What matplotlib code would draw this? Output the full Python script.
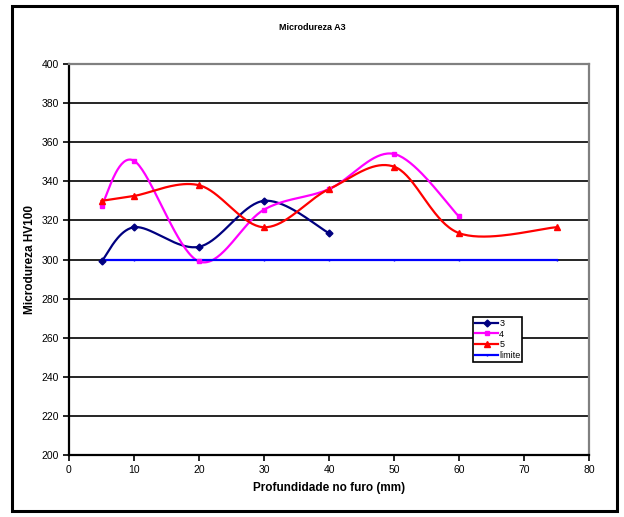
import numpy as np
import matplotlib
matplotlib.use("Agg")
import matplotlib.pyplot as plt
from matplotlib.patches import Rectangle

# depth (mm) and hardness readings per series
x3 = [5, 10, 20, 30, 40]
y3 = [299, 316.5, 306.5, 330, 313.5]

x4 = [5, 10, 20, 30, 40, 50, 60]
y4 = [327.5, 350.5, 299, 325.5, 336, 354, 322]

x5 = [5, 10, 20, 30, 40, 50, 60, 75]
y5 = [330, 332.5, 338, 316.5, 336, 347.5, 313.5, 316.5]

x_lim = [5, 10, 20, 30, 40, 50, 60, 75]
y_lim = [300, 300, 300, 300, 300, 300, 300, 300]

yticks = [200, 220, 240, 260, 280, 300, 320, 340, 360, 380, 400]
xticks = [0, 10, 20, 30, 40, 50, 60, 70, 80]


def smooth(xs, ys, n=40):
    """Excel-like smoothed line (bezier through the points)."""
    p = np.column_stack([xs, ys]).astype(float)
    out = [p[:1]]
    t = np.linspace(0, 1, n)[1:, None]
    for i in range(len(p) - 1):
        prev = p[i - 1] if i > 0 else p[i]
        nxt = p[i + 2] if i + 2 < len(p) else p[i + 1]
        c1 = p[i] + (p[i + 1] - prev) / 6
        c2 = p[i + 1] - (nxt - p[i]) / 6
        seg = ((1 - t) ** 3 * p[i] + 3 * (1 - t) ** 2 * t * c1
               + 3 * (1 - t) * t ** 2 * c2 + t ** 3 * p[i + 1])
        out.append(seg)
    pts = np.vstack(out)
    return pts[:, 0], pts[:, 1]


plt.rcParams['font.family'] = ['Liberation Sans', 'DejaVu Sans']

fig = plt.figure(figsize=(6.24, 5.17), dpi=100)
fig.patches.append(Rectangle((12 / 624, 6 / 517), 605 / 624, 505 / 517,
                             transform=fig.transFigure, fill=False,
                             edgecolor='black', linewidth=2.2))

ax = fig.add_axes([69 / 624, 62 / 517, 520 / 624, 391 / 517])

for yv in yticks[1:-1]:
    ax.axhline(yv, color='black', linewidth=1.2, zorder=1)

series = [
    (x3, y3, '#000080', 'D', 3.5, '3'),
    (x4, y4, '#FF00FF', 's', 3.5, '4'),
    (x5, y5, '#FF0000', '^', 4.5, '5'),
]
handles = []
for xs, ys, col, mk, ms, lab in series:
    sx, sy = smooth(xs, ys)
    ax.plot(sx, sy, color=col, linewidth=1.6, zorder=3)
    ax.plot(xs, ys, linestyle='none', marker=mk, markersize=ms,
            color=col, zorder=4)
    h, = ax.plot([], [], color=col, linewidth=1.6, marker=mk,
                 markersize=ms, label=lab)
    handles.append(h)

h_lim, = ax.plot(x_lim, y_lim, color='#0000FF', linewidth=1.6,
                 marker='|', markersize=2, zorder=3, label='limite')
handles.append(h_lim)

ax.set_xlim(0, 80)
ax.set_ylim(200, 400)
ax.set_xticks(xticks)
ax.set_yticks(yticks)
ax.tick_params(axis='both', labelsize=7.5, length=4, width=1.2,
               direction='out', pad=3)

for s in ['left', 'bottom']:
    ax.spines[s].set_color('black')
    ax.spines[s].set_linewidth(1.6)
for s in ['top', 'right']:
    ax.spines[s].set_color('#808080')
    ax.spines[s].set_linewidth(1.6)

ax.set_xlabel("Profundidade no furo (mm)", fontsize=8.5, fontweight='bold',
              labelpad=5)
ax.set_ylabel("Microdureza HV100", fontsize=8.5, fontweight='bold',
              labelpad=4)
fig.text(0.5, 1 - 28 / 517, "Microdureza A3", fontsize=6.5,
         fontweight='bold', ha='center', va='center')

leg = ax.legend(handles=handles, loc='upper left',
                bbox_to_anchor=((473 - 69) / 520, (455 - 317) / 391),
                fontsize=6.5, frameon=True, fancybox=False,
                handlelength=2.6, handletextpad=0.1, borderpad=0.2,
                labelspacing=0.2, borderaxespad=0)
leg.get_frame().set_edgecolor('black')
leg.get_frame().set_linewidth(1.2)
leg.get_frame().set_alpha(1)

fig.savefig("out.png", dpi=100)
